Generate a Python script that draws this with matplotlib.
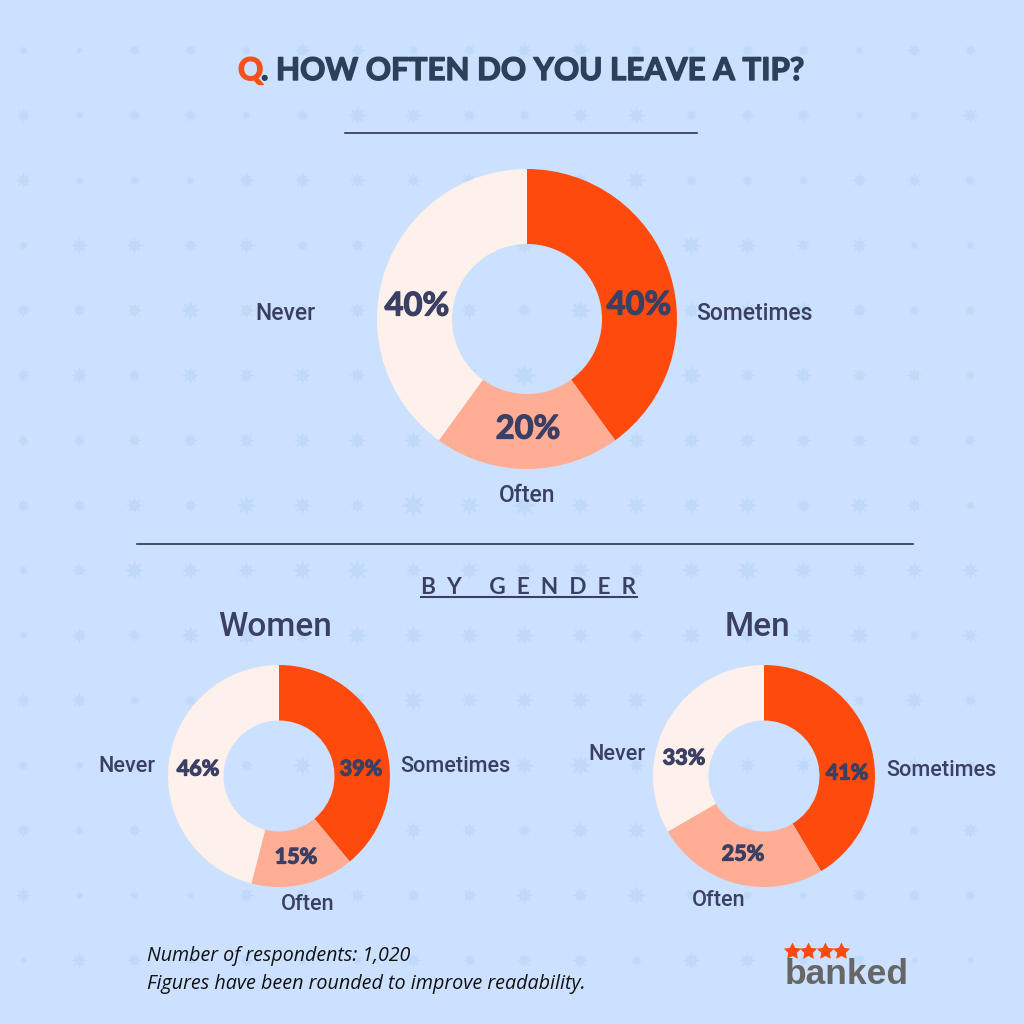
import matplotlib
matplotlib.use("Agg")
import matplotlib.pyplot as plt
import matplotlib.patheffects as pe
import numpy as np

categories = ["Sometimes", "Often", "Never"]
overall = [40, 20, 40]
women = [39, 15, 46]
men = [41, 25, 33]
colors = ["#FF4A0D", "#FFAD94", "#FEF0EA"]
BG = "#CBE1FF"
INK = "#3B3F63"
TITLE = "#2C4059"

def heavy(w):
    return [pe.Stroke(linewidth=w), pe.Normal()]

fig = plt.figure(figsize=(10.24, 10.24), dpi=100, facecolor=BG)
bgax = fig.add_axes([0, 0, 1, 1], zorder=0)
bgax.set_xlim(0, 1024); bgax.set_ylim(1024, 0); bgax.axis("off")
top = fig.add_axes([0, 0, 1, 1], zorder=10)
top.set_xlim(0, 1024); top.set_ylim(1024, 0); top.axis("off"); top.patch.set_alpha(0)

# faint star pattern of the background: larger toward the centre
star_jitter = [0, 2, -1, 3, 1, -2, 4, 0, 2, -1, 1]
for i, y in enumerate(np.arange(50, 1024, 65)):
    for j, x in enumerate(np.arange(23, 1024, 55.7)):
        d = np.hypot(x - 512, y - 512) / 720
        ms = 6 + 9 * (1 - d) + star_jitter[(i * 3 + j * 5 + i * j) % len(star_jitter)]
        bgax.plot(x, y, marker=(8, 1, 0), ms=ms, color="#C0D9F9", mew=0, zorder=0)

def donut(cx, cy, r, values, hole, fs, lfs, label_pos, pct_pos):
    ax = fig.add_axes([(cx - r) / 1024, 1 - (cy + r) / 1024, 2 * r / 1024, 2 * r / 1024], zorder=5)
    ax.pie(values, colors=colors, startangle=90, counterclock=False, radius=1,
           wedgeprops=dict(width=1 - hole, linewidth=0))
    ax.set_xlim(-1, 1); ax.set_ylim(-1, 1)
    ax.patch.set_alpha(0)
    for v, (px, py) in zip(values, pct_pos):
        t = top.text(px, py, f"{v}%", fontsize=fs, fontweight="bold", color=INK,
                     ha="center", va="center", family="Lato")
        t.set_path_effects(heavy(0.9))
    for cat, (px, py) in zip(categories, label_pos):
        top.text(px, py, cat, fontsize=lfs, fontweight="medium", color=INK,
                 ha="center", va="center", family="Roboto")

donut(527, 319, 150, overall, 0.50, 23.5, 16.5,
      [(754, 313), (527, 496), (285, 313)], [(639, 305), (528, 429), (417, 306)])
donut(279, 776, 111, women, 0.50, 15.5, 15.6,
      [(455, 767), (308, 905), (127, 766)], [(361, 769), (296, 857), (198, 769)])
donut(764, 776, 111, men, 0.50, 15.5, 15.6,
      [(941, 770), (719, 901), (617, 755)], [(847, 773), (743, 854), (684, 758)])

# Title
t = top.text(238, 71, "Q", fontsize=22.5, fontweight="bold", color="#F4511E", family="Lato", va="center", ha="left")
t.set_path_effects(heavy(1.0))
t = top.text(261, 71, ". HOW OFTEN DO YOU LEAVE A TIP?", fontsize=22.5, fontweight="bold", color=TITLE,
             family="Lato", va="center", ha="left")
t.set_path_effects(heavy(1.0))

top.plot([345, 697], [132.5, 132.5], color="#30344F", lw=1.2)
top.plot([137, 913], [543.5, 543.5], color="#30344F", lw=1.2)

t = top.text(529, 588, "B  Y     G  E  N  D  E  R", fontsize=16.3, fontweight="bold", color=INK,
             family="Lato", ha="center", va="center")
top.plot([421, 637], [597, 597], color=INK, lw=1.5)

top.text(275, 627, "Women", fontsize=24, fontweight="medium", color=INK, family="Roboto", ha="center", va="center")
top.text(757, 627, "Men", fontsize=24, fontweight="medium", color=INK, family="Roboto", ha="center", va="center")

top.text(147, 956, "Number of respondents: 1,020", fontsize=14.1, style="italic", color="#111111",
         family="Open Sans", va="center")
top.text(147, 984, "Figures have been rounded to improve readability.", fontsize=14.2, style="italic",
         color="#111111", family="Open Sans", va="center")

top.text(785, 975, "banked", fontsize=25.5, fontweight="bold", color="#666666", family="Liberation Sans", va="center")
for x in (792, 808, 825, 841):
    top.plot(x, 951, marker=(5, 1, 0), ms=13, color="#FF4A0D", mew=0)

fig.savefig("out.png", dpi=100, facecolor=BG)
